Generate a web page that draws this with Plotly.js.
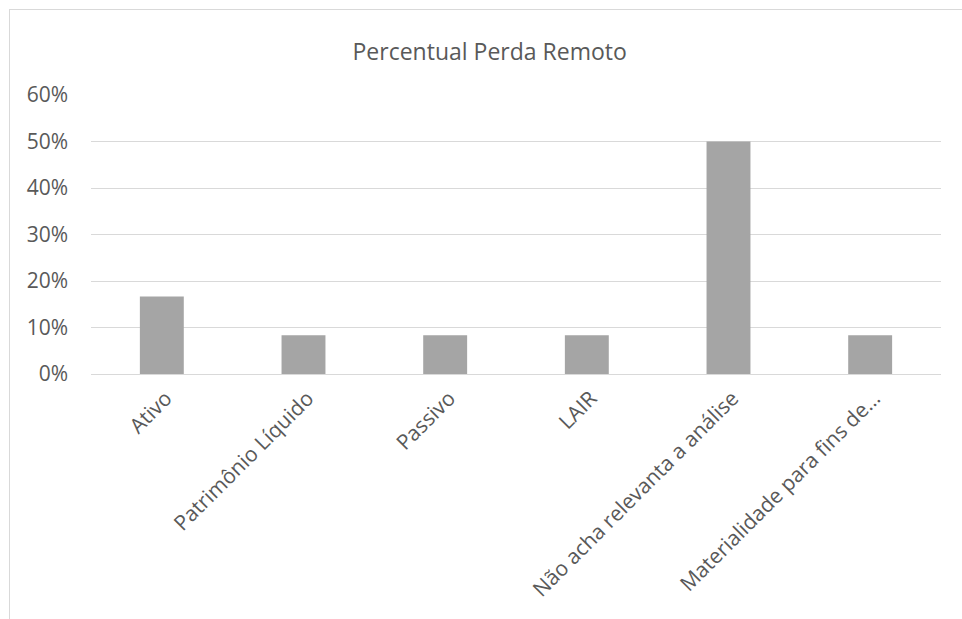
<!DOCTYPE html>
<html>
<head>
<meta charset="utf-8">
<script src="https://cdn.plot.ly/plotly-3.0.1.min.js"></script>
<style>
html,body{margin:0;padding:0;background:#fff;}
#chart{position:absolute;left:0;top:0;width:962px;height:619px;}
#frame{position:absolute;left:9px;top:9px;width:953px;height:610px;border-top:1px solid #D9D9D9;border-left:1px solid #D9D9D9;pointer-events:none;}
</style>
</head>
<body>
<div id="chart"></div>
<div id="frame"></div>
<script>
const categories = ["Ativo", "Patrimônio Líquido", "Passivo", "LAIR", "Não acha relevanta a análise", "Materialidade para fins de…"];
const values = [0.1667, 0.0833, 0.0833, 0.0833, 0.50, 0.0833];
const yTickVals = [0, 0.1, 0.2, 0.3, 0.4, 0.5, 0.6];
const yTickText = ["0%", "10%", "20%", "30%", "40%", "50%", "60%"];
const chartTitle = "Percentual Perda Remoto";

const font = "Open Sans, Noto Sans, sans-serif";
Plotly.newPlot("chart", [{
  type: "bar",
  x: categories,
  y: values,
  marker: {color: "#A5A5A5"},
  hoverinfo: "x+y"
}], {
  width: 962, height: 619,
  margin: {l: 91, r: 21, t: 95, b: 245},
  paper_bgcolor: "#fff", plot_bgcolor: "#fff",
  bargap: 0.69,
  showlegend: false,
  title: {text: chartTitle, font: {family: font, size: 23, color: "#595959"}, x: 0.509, xref: "container", y: 0.916, yref: "container", yanchor: "middle"},
  xaxis: {
    tickangle: -45,
    tickfont: {family: font, size: 21, color: "#595959"},
    showgrid: false, showline: false, zeroline: false,
    ticks: "", ticklabelstandoff: 7, ticklabelshift: 4
  },
  yaxis: {
    range: [0, 0.6],
    tickvals: yTickVals, ticktext: yTickText,
    tickfont: {family: font, size: 21, color: "#595959"},
    showgrid: true, gridcolor: "#D9D9D9", gridwidth: 1,
    zeroline: true, zerolinecolor: "#D9D9D9", zerolinewidth: 1,
    showline: false, ticks: "", ticklabelstandoff: 22
  }
}, {displayModeBar: false, staticPlot: true});
</script>
</body>
</html>
